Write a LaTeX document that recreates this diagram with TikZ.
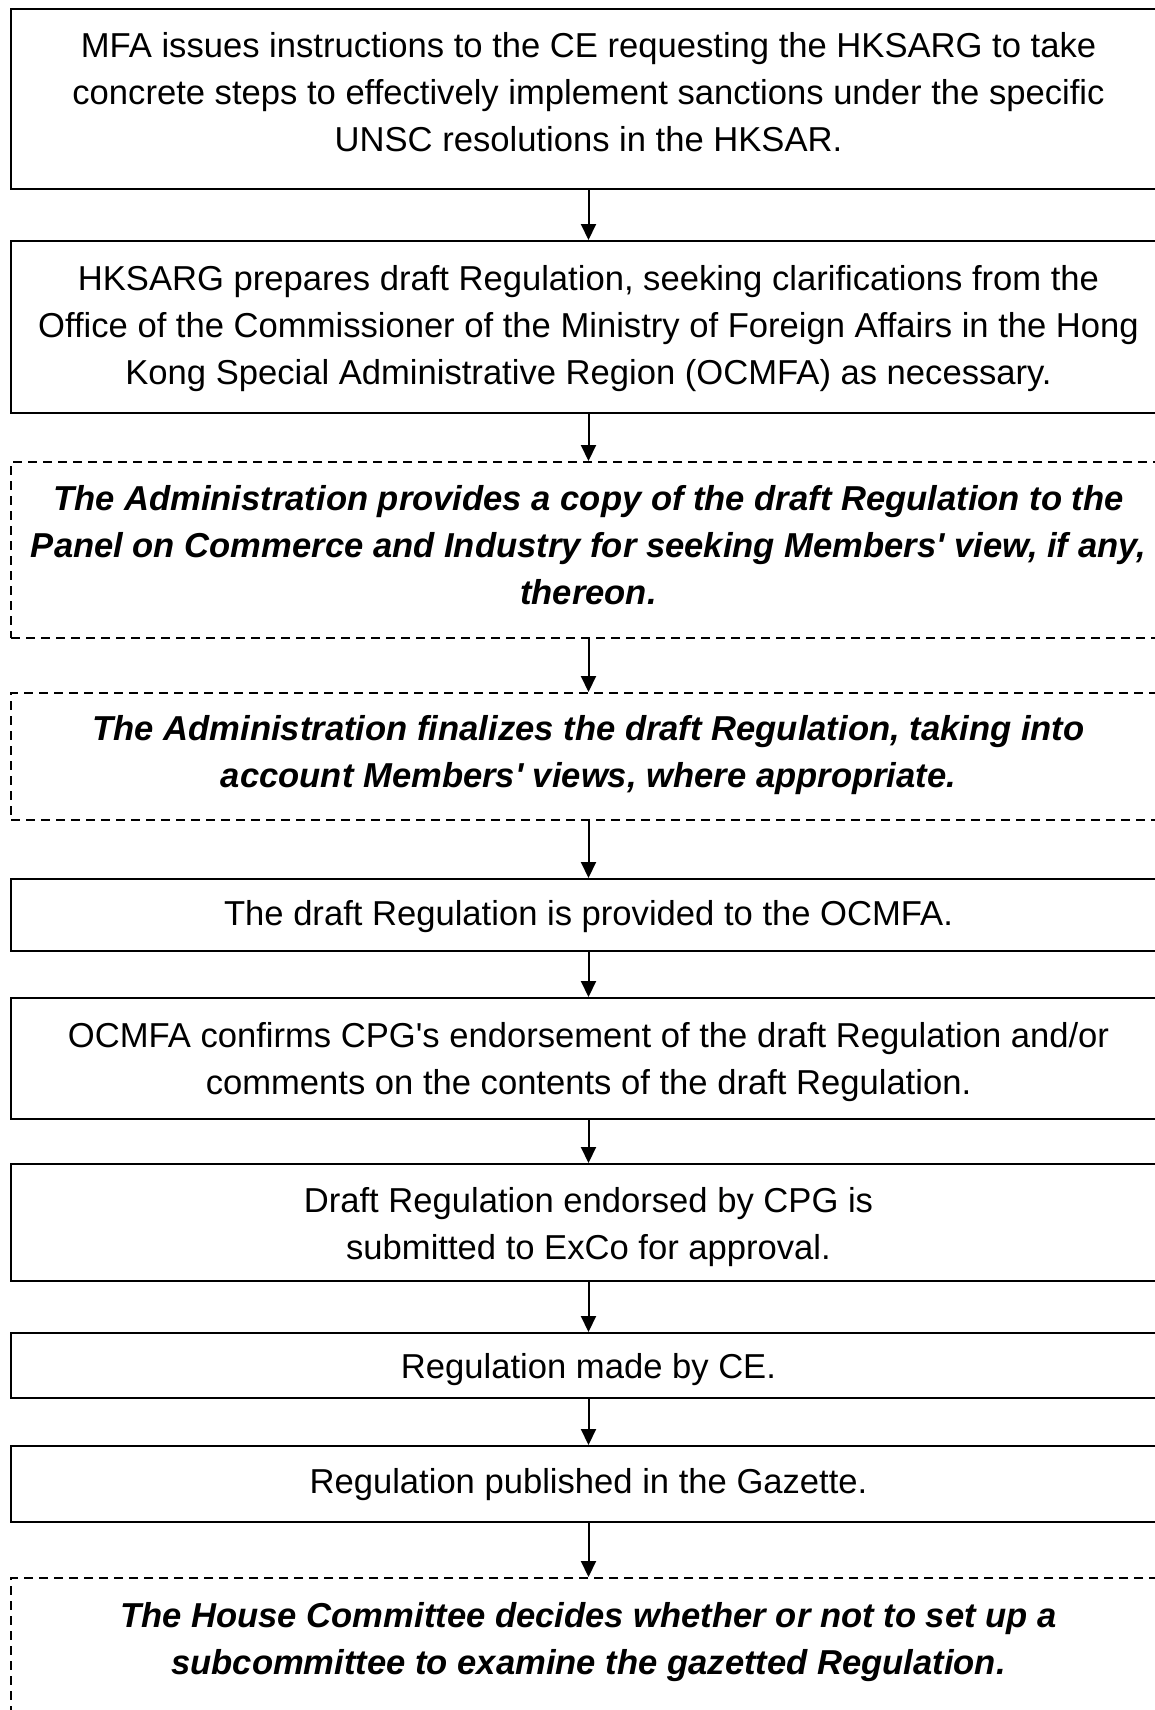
\documentclass[tikz,border=0pt]{standalone}
\usepackage{fontspec}
\setmainfont{Liberation Sans}
\usetikzlibrary{arrows.meta}
\tikzset{
  box/.style={draw=black, line width=1pt, rectangle, inner sep=0pt, minimum width=577.5pt},
  dbox/.style={box, dash pattern=on 4.5pt off 3pt},
  txt/.style={anchor=north, inner sep=0pt, align=center, font=\fontsize{17.3}{23.5}\selectfont},
  btxt/.style={txt, font=\fontsize{17.3}{23.5}\selectfont\bfseries\itshape},
  arr/.style={draw=black, line width=1pt, -{Triangle[width=7.5pt,length=8pt]}}
}
\begin{document}
\begin{tikzpicture}[x=0.5pt,y=-0.5pt]
\useasboundingbox (0,0) rectangle (1155,1710);
\clip (0,0) rectangle (1155,1710);
\fill[white] (0,0) rectangle (1155,1710);
% boxes
\node[box,  minimum height=90pt]   (b1)  at (588.5,99)    {};
\node[box,  minimum height=86pt]   (b2)  at (588.5,327)   {};
\node[dbox, minimum height=88pt]   (b3)  at (588.5,550)   {};
\node[dbox, minimum height=63.5pt] (b4)  at (588.5,756.5) {};
\node[box,  minimum height=36pt]   (b5)  at (588.5,915)   {};
\node[box,  minimum height=60.5pt] (b6)  at (588.5,1058.5){};
\node[box,  minimum height=58.5pt] (b7)  at (588.5,1222.5){};
\node[box,  minimum height=32.5pt] (b8)  at (588.5,1365.5){};
\node[box,  minimum height=38pt]   (b9)  at (588.5,1484)  {};
\node[dbox, minimum height=71pt]   (b10) at (588.5,1649)  {};
% texts (north = first baseline - strut height)
\node[txt]  (t1)  at (588.5,24.1)   {\strut MFA issues instructions to the CE requesting the HKSARG to take\\concrete steps to effectively implement sanctions under the specific\\UNSC resolutions in the HKSAR.};
\node[txt]  (t2)  at (588.5,257.1)  {\strut HKSARG prepares draft Regulation, seeking clarifications from the\\Office of the Commissioner of the Ministry of Foreign Affairs in the Hong\\Kong Special Administrative Region (OCMFA) as necessary.};
\node[btxt] (t3)  at (588.5,477.1)  {\strut The Administration provides a copy of the draft Regulation to the\\Panel on Commerce and Industry for seeking Members\textquotesingle\ view, if any,\\thereon.};
\node[btxt] (t4)  at (588.5,707.1)  {\strut The Administration finalizes the draft Regulation, taking into\\account Members\textquotesingle\ views, where appropriate.};
\node[txt]  (t5)  at (588.5,892.1)  {\strut The draft Regulation is provided to the OCMFA.};
\node[txt]  (t6)  at (588.5,1014.1) {\strut OCMFA confirms CPG\textquotesingle s endorsement of the draft Regulation and/or\\comments on the contents of the draft Regulation.};
\node[txt]  (t7)  at (588.5,1179.1) {\strut Draft Regulation endorsed by CPG is\\submitted to ExCo for approval.};
\node[txt]  (t8)  at (588.5,1345.1) {\strut Regulation made by CE.};
\node[txt]  (t9)  at (588.5,1460.1) {\strut Regulation published in the Gazette.};
\node[btxt] (t10) at (588.5,1594.1) {\strut The House Committee decides whether or not to set up a\\subcommittee to examine the gazetted Regulation.};
% connectors
\draw[arr] (b1.south) -- (b2.north);
\draw[arr] (b2.south) -- (b3.north);
\draw[arr] (b3.south) -- (b4.north);
\draw[arr] (b4.south) -- (b5.north);
\draw[arr] (b5.south) -- (b6.north);
\draw[arr] (b6.south) -- (b7.north);
\draw[arr] (b7.south) -- (b8.north);
\draw[arr] (b8.south) -- (b9.north);
\draw[arr] (b9.south) -- (b10.north);
\end{tikzpicture}
\end{document}
